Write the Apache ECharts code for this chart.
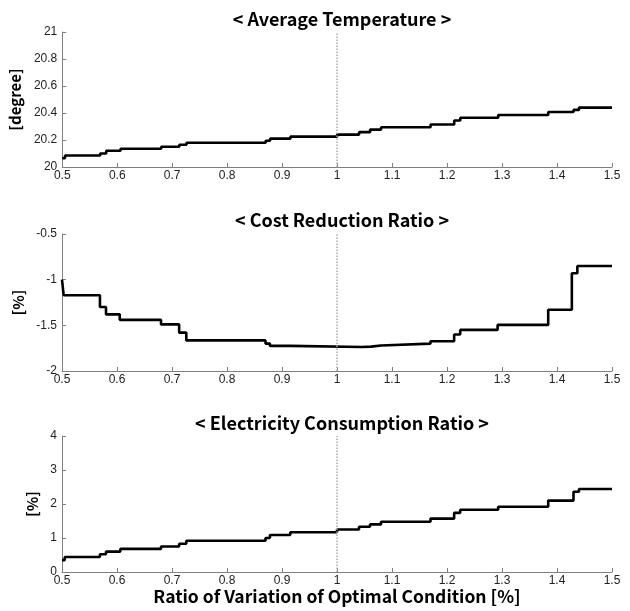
<!DOCTYPE html>
<html>
<head>
<meta charset="utf-8">
<script src="https://cdn.jsdelivr.net/npm/echarts@6/dist/echarts.min.js"></script>
<style>
html, body { margin: 0; background: #fff; }
#chart { width: 630px; height: 611px; }
</style>
</head>
<body>
<div id="chart"></div>
<script>
// step points: the level changes to Y at X
var tempX = [0.5, 0.505, 0.569, 0.58, 0.606, 0.68, 0.713, 0.726, 0.87, 0.878, 0.915, 1.0, 1.04, 1.06, 1.08, 1.17, 1.213, 1.224, 1.293, 1.384, 1.43, 1.44, 1.5]
var tempY = [20.065, 20.085, 20.10, 20.12, 20.135, 20.15, 20.165, 20.18, 20.195, 20.21, 20.225, 20.24, 20.258, 20.277, 20.295, 20.315, 20.345, 20.365, 20.385, 20.407, 20.423, 20.44, 20.44]

var costX = [0.5, 0.503, 0.569, 0.58, 0.605, 0.68, 0.713, 0.726, 0.87, 0.878, 0.915, 1.045, 1.062, 1.08, 1.17, 1.213, 1.224, 1.292, 1.384, 1.427, 1.437, 1.5]
var costY = [-1.0, -1.17, -1.30, -1.38, -1.44, -1.49, -1.58, -1.665, -1.70, -1.725, -1.738, -1.733, -1.72, -1.70, -1.675, -1.60, -1.55, -1.495, -1.33, -0.93, -0.85, -0.85]

var elecX = [0.5, 0.505, 0.569, 0.58, 0.606, 0.68, 0.713, 0.726, 0.87, 0.878, 0.915, 1.0, 1.04, 1.06, 1.08, 1.17, 1.213, 1.224, 1.293, 1.384, 1.43, 1.44, 1.5]
var elecY = [0.35, 0.44, 0.52, 0.60, 0.68, 0.75, 0.83, 0.92, 1.0, 1.09, 1.17, 1.25, 1.33, 1.40, 1.48, 1.57, 1.74, 1.83, 1.92, 2.10, 2.36, 2.44, 2.44]

var titles = ['< Average Temperature >', '< Cost Reduction Ratio >', '< Electricity Consumption Ratio >']
var yNames = ['[degree]', '[%]', '[%]']
var xName = 'Ratio of Variation of Optimal Condition [%]'
var optimalX = 1

var KR = '"Noto Sans CJK KR", "Noto Sans", sans-serif'
var AX = '"Liberation Sans", Arial, sans-serif'

function pairs(xs, ys) {
    return xs.map(function (x, i) { return [x, ys[i]] })
}

function xAxis(idx, name) {
    return {
        type: 'value', gridIndex: idx,
        min: 0.5, max: 1.5, interval: 0.1,
        name: name || '', nameLocation: 'middle', nameGap: 16,
        nameTextStyle: { fontFamily: KR, fontWeight: 'bold', fontSize: 17.5, color: '#000' },
        axisLine: { lineStyle: { color: '#808080', width: 1 } },
        axisTick: { inside: true, length: 4, lineStyle: { color: '#808080' } },
        axisLabel: { color: '#222', fontFamily: AX, fontSize: 12, margin: 3 },
        splitLine: { show: false }
    }
}

function yAxis(idx, min, max, step, gap) {
    return {
        type: 'value', gridIndex: idx,
        min: min, max: max, interval: step,
        name: yNames[idx], nameLocation: 'middle', nameGap: gap, nameRotate: 90,
        nameTextStyle: { fontFamily: KR, fontWeight: 'bold', fontSize: 15, color: '#000' },
        axisLine: { show: true, lineStyle: { color: '#808080', width: 1 } },
        axisTick: { show: true, inside: true, length: 4, lineStyle: { color: '#808080' } },
        axisLabel: { color: '#222', fontFamily: AX, fontSize: 12, margin: 5 },
        splitLine: { show: false }
    }
}

function stepLine(idx, data) {
    return {
        type: 'line', xAxisIndex: idx, yAxisIndex: idx,
        step: 'end', symbol: 'none', data: data,
        lineStyle: { color: '#000', width: 2.6 },
        markLine: {
            silent: true, symbol: 'none', label: { show: false },
            lineStyle: { type: 'dotted', color: '#aaa', width: 1.5 },
            data: [{ xAxis: optimalX }]
        }
    }
}

var chart = echarts.init(document.getElementById('chart'))
chart.setOption({
    animation: false,
    title: titles.map(function (t, i) {
        return {
            text: t, left: 337, top: [5, 206, 409][i], textAlign: 'center',
            textStyle: { fontFamily: KR, fontWeight: 'bold', fontSize: 18, color: '#000' }
        }
    }),
    grid: [
        { left: 62, right: 18, top: 32, height: 135 },
        { left: 62, right: 18, top: 234, height: 137 },
        { left: 62, right: 18, top: 436, height: 136 }
    ],
    xAxis: [xAxis(0), xAxis(1), xAxis(2, xName)],
    yAxis: [
        yAxis(0, 20, 21, 0.2, 31),
        yAxis(1, -2, -0.5, 0.5, 29),
        yAxis(2, 0, 4, 1, 17)
    ],
    series: [
        stepLine(0, pairs(tempX, tempY)),
        stepLine(1, pairs(costX, costY)),
        stepLine(2, pairs(elecX, elecY))
    ]
})
</script>
</body>
</html>
